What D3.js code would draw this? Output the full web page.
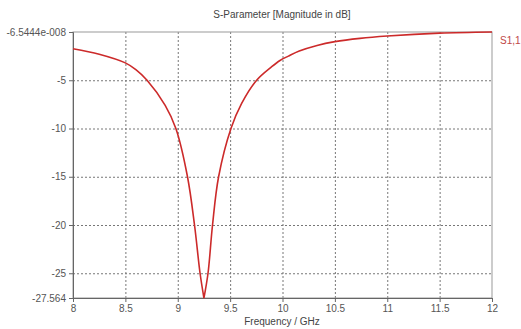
<!DOCTYPE html>
<html>
<head>
<meta charset="utf-8">
<script src="https://cdn.jsdelivr.net/npm/d3@7"></script>
<style>
  body { margin: 0; background: #fff; }
  text { font-family: "Liberation Sans", Arial, sans-serif; }
</style>
</head>
<body>
<div id="chart"></div>
<script>
var freq = [8.0, 8.25, 8.5, 8.6, 8.707, 8.88, 8.982, 9.093, 9.16, 9.213, 9.25,
            9.289, 9.332, 9.39, 9.508, 9.61, 9.753, 9.897, 9.976, 10.056, 10.16, 10.33, 10.5, 10.74, 11.0, 11.5, 12.0]
var s11 = [-1.73, -2.3, -3.2, -3.9, -5.0, -7.6, -10, -15, -20, -25, -27.564,
           -25, -20, -15, -10, -7.4, -5.0, -3.6, -2.95, -2.5, -1.97, -1.39, -1.0, -0.66, -0.42, -0.12, -6.5444e-8]
var xTicks = [8, 8.5, 9, 9.5, 10, 10.5, 11, 11.5, 12]
var yTicks = [-6.5444e-8, -5, -10, -15, -20, -25, -27.564]
var yTickLabels = ["-6.5444e-008", "-5", "-10", "-15", "-20", "-25", "-27.564"]

var width = 521, height = 329
var margin = {top: 32, right: 29, bottom: 31, left: 73}

var svg = d3.select("#chart").append("svg")
  .attr("width", width).attr("height", height)

var x = d3.scaleLinear().domain([8, 12]).range([margin.left, width - margin.right])
var y = d3.scaleLinear().domain([-6.5444e-8, -27.564]).range([margin.top, height - margin.bottom])

// grid
svg.append("g").selectAll("line")
  .data(xTicks.slice(1, -1)).enter().append("line")
  .attr("x1", function(d) { return x(d) + 0.5 }).attr("x2", function(d) { return x(d) + 0.5 })
  .attr("y1", y.range()[0]).attr("y2", y.range()[1])
  .attr("stroke", "#777").attr("stroke-dasharray", "2,2").attr("stroke-width", 1)
svg.append("g").selectAll("line")
  .data(yTicks.slice(1, -1)).enter().append("line")
  .attr("y1", function(d) { return y(d) + 0.5 }).attr("y2", function(d) { return y(d) + 0.5 })
  .attr("x1", x.range()[0]).attr("x2", x.range()[1])
  .attr("stroke", "#777").attr("stroke-dasharray", "2,2").attr("stroke-width", 1)

// frame
svg.append("rect")
  .attr("x", x.range()[0]).attr("y", y.range()[0])
  .attr("width", x.range()[1] - x.range()[0]).attr("height", y.range()[1] - y.range()[0])
  .attr("fill", "none").attr("stroke", "#999")

// axes
var xAxis = d3.axisBottom(x).tickValues(xTicks).tickSize(4).tickFormat(d3.format("~g"))
var yAxis = d3.axisLeft(y).tickValues(yTicks).tickSize(4)
  .tickFormat(function(d, i) { return yTickLabels[i] })

var gx = svg.append("g").attr("transform", "translate(0," + y.range()[1] + ")").call(xAxis)
var gy = svg.append("g").attr("transform", "translate(" + x.range()[0] + ",0)").call(yAxis)
;[gx, gy].forEach(function(g) {
  g.select(".domain").attr("stroke", "#666")
  g.selectAll(".tick line").attr("stroke", "#666")
  g.selectAll(".tick text").attr("fill", "#555").style("font-size", "10px")
})

// curve: two branches meeting at the notch so the bottom stays sharp
var pts = freq.map(function(f, i) { return [f, s11[i]] })
var iMin = d3.minIndex(s11)
var line = d3.line()
  .x(function(d) { return x(d[0]) })
  .y(function(d) { return y(d[1]) })
  .curve(d3.curveCatmullRom.alpha(0.5))
svg.append("path")
  .attr("d", line(pts.slice(0, iMin + 1)) + line(pts.slice(iMin)))
  .attr("fill", "none").attr("stroke", "#cc2a2a").attr("stroke-width", 1.6)
  .attr("stroke-linejoin", "round")

// labels
svg.append("text").attr("x", 282).attr("y", 18).attr("text-anchor", "middle")
  .style("font-size", "10px").attr("fill", "#444").text("S-Parameter [Magnitude in dB]")
svg.append("text").attr("x", 282).attr("y", 325).attr("text-anchor", "middle")
  .style("font-size", "10px").attr("fill", "#444").text("Frequency / GHz")
svg.append("text").attr("x", 500).attr("y", 44)
  .style("font-size", "10px").attr("fill", "#c04848").text("S1,1")
</script>
</body>
</html>
